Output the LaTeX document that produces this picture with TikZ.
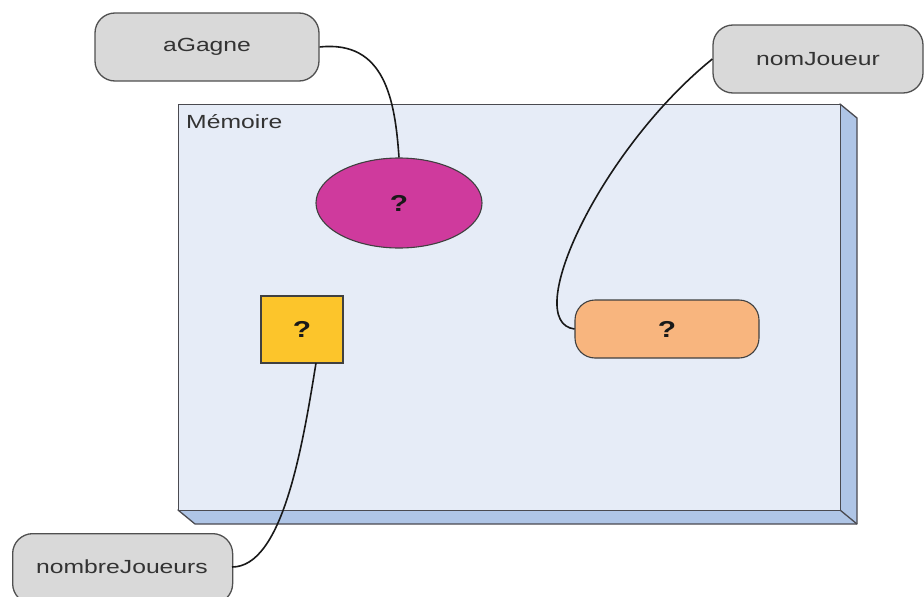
\documentclass[tikz,border=0pt]{standalone}
\usepackage{fontspec}
\setmainfont[FakeStretch=1.3]{Liberation Sans}
\usetikzlibrary{shapes.geometric}

\definecolor{labelgray}{HTML}{D9D9D9}
\definecolor{edgegray}{HTML}{505050}
\definecolor{textgray}{HTML}{333333}
\definecolor{memface}{HTML}{E6ECF7}
\definecolor{memside}{HTML}{AFC5E6}
\definecolor{memedge}{HTML}{4A4A50}
\definecolor{boolpink}{HTML}{CF3A9D}
\definecolor{intyellow}{HTML}{FCC52B}
\definecolor{strorange}{HTML}{F8B57E}

\tikzset{
  varname/.style={draw=edgegray, line width=1.3pt, fill=labelgray, rounded corners=20pt,
    text=textgray, font=\fontsize{19}{21}\selectfont, inner sep=0pt},
  valbox/.style={draw=black!75, line width=1.1pt, inner sep=0pt,
    font=\bfseries\fontsize{23}{25}\selectfont, text=black!90},
  link/.style={line width=1.6pt, draw=black!90},
}

\begin{document}
\begin{tikzpicture}[x=1pt, y=-1pt]
  \useasboundingbox (0,0) rectangle (924,597);
  \begin{scope}
    \clip (0,0) rectangle (924,597);

    % memory block with its 3D depth
    \fill[memside, draw=memedge, line width=1.3pt, line join=round]
      (840,104) -- (857,118) -- (857,524) -- (195,524) -- (178,510) -- (840,510) -- cycle;
    \draw[memedge, line width=1.3pt] (840,510) -- (857,524);
    \node[draw=memedge, line width=1.3pt, fill=memface, minimum width=662pt, minimum height=406pt,
      inner sep=0pt, anchor=north west] (mem) at (178,104) {};
    \node[anchor=north west, text=textgray, font=\fontsize{19}{21}\selectfont, inner sep=0pt]
      (memlabel) at (186,114) {Mémoire};

    % values stored in memory
    \node[valbox, ellipse, fill=boolpink, minimum width=166pt, minimum height=90pt]
      (ell) at (399,203) {?};
    \node[valbox, rectangle, fill=intyellow, minimum width=82pt, minimum height=67pt]
      (sq) at (302,329.5) {?};
    \node[valbox, rectangle, rounded corners=20pt, fill=strorange, minimum width=184pt, minimum height=58pt]
      (str) at (667,329) {?};

    % variable names
    \node[varname, minimum width=224pt, minimum height=68pt] (aG) at (207,47) {aGagne};
    \node[varname, minimum width=210pt, minimum height=68pt] (nJ) at (818,59) {nomJoueur};
    \node[varname, minimum width=220pt, minimum height=70pt, anchor=north west] (nbJ) at (12,533) {};
    \node[text=textgray, font=\fontsize{19}{21}\selectfont, inner sep=0pt] (nbJtxt) at (122,567) {nombreJoueurs};

    % links from names to values
    \coordinate (nbJend) at (232,567);
    \coordinate (sqfoot) at (316,363);
    \draw[link] (aG.east) .. controls (385,40) and (395,100) .. (ell.north);
    \draw[link] (nJ.west) .. controls (600,150) and (520,322) .. (str.west);
    \draw[link] (sqfoot) .. controls (302,450) and (282,567) .. (nbJend);
  \end{scope}
\end{tikzpicture}
\end{document}
